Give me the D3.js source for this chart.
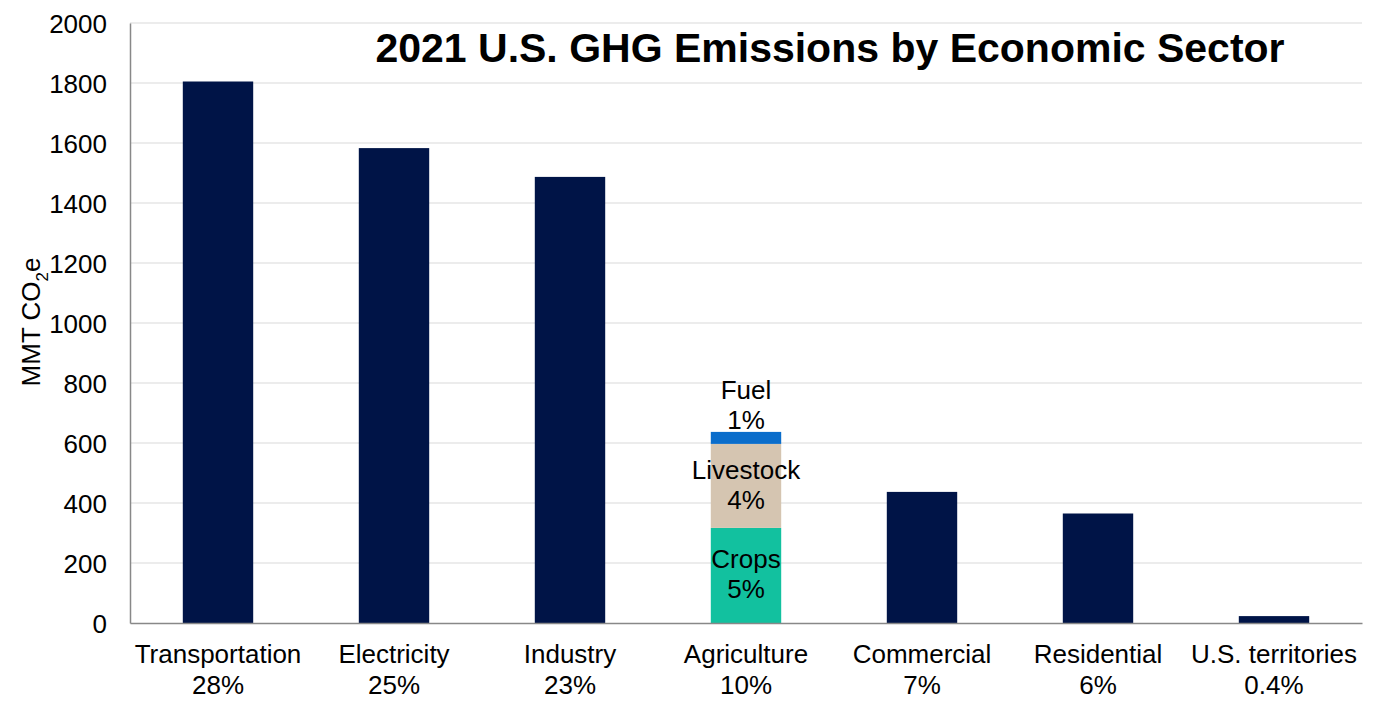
<!DOCTYPE html>
<html>
<head>
<meta charset="utf-8">
<script src="https://cdn.jsdelivr.net/npm/d3@7"></script>
<style>
  body { margin: 0; background: #fff; }
  text { font-family: "Liberation Sans", Arial, sans-serif; fill: #000; }
</style>
</head>
<body>
<svg width="1377" height="716"></svg>
<script>
// sectors along the x axis
const sectors = ["Transportation", "Electricity", "Industry", "Agriculture", "Commercial", "Residential", "U.S. territories"]
const shares = ["28%", "25%", "23%", "10%", "7%", "6%", "0.4%"]
const totals = [1805, 1583, 1487, 0, 437, 365, 23]

// agriculture is split into stacked parts
const agParts = ["Crops", "Livestock", "Fuel"]
const agValues = [317, 280, 40]
const agShares = ["5%", "4%", "1%"]

const yTicks = [0, 200, 400, 600, 800, 1000, 1200, 1400, 1600, 1800, 2000]

const svg = d3.select("svg")
const margin = {top: 23, right: 15, bottom: 93, left: 130}
const width = +svg.attr("width") - margin.left - margin.right
const height = +svg.attr("height") - margin.top - margin.bottom
const g = svg.append("g").attr("transform", "translate(" + margin.left + "," + margin.top + ")")

const x = d3.scaleBand().domain(sectors).range([0, width]).paddingInner(0.6).paddingOuter(0.3)
const y = d3.scaleLinear().domain([0, 2000]).range([height, 0])
const agColor = d3.scaleOrdinal().domain(agParts).range(["#12c19f", "#d5c5b1", "#0a6dcb"])

// grid
g.append("g")
    .selectAll("line")
    .data(yTicks.slice(1))
    .enter().append("line")
    .attr("x1", 0).attr("x2", width)
    .attr("y1", d => y(d)).attr("y2", d => y(d))
    .attr("stroke", "#d9d9d9")
    .attr("stroke-width", 1.2)

// simple bars
g.selectAll(".bar")
    .data(sectors.filter((s, i) => totals[i] > 0))
    .enter().append("rect")
    .attr("class", "bar")
    .attr("x", d => x(d))
    .attr("width", x.bandwidth())
    .attr("y", d => y(totals[sectors.indexOf(d)]))
    .attr("height", d => height - y(totals[sectors.indexOf(d)]))
    .attr("fill", "#001447")

// agriculture stack
let acc = 0
const stack = agParts.map((p, i) => {
    const s = {name: p, share: agShares[i], y0: acc, y1: acc + agValues[i]}
    acc += agValues[i]
    return s
})
g.selectAll(".ag")
    .data(stack)
    .enter().append("rect")
    .attr("class", "ag")
    .attr("x", x("Agriculture"))
    .attr("width", x.bandwidth())
    .attr("y", d => y(d.y1))
    .attr("height", d => y(d.y0) - y(d.y1))
    .attr("fill", d => agColor(d.name))

const cx = x("Agriculture") + x.bandwidth() / 2
const agLabel = g.selectAll(".aglabel")
    .data(stack)
    .enter().append("text")
    .attr("class", "aglabel")
    .attr("text-anchor", "middle")
    .style("font-size", "26px")
    .attr("x", cx)
    .attr("y", d => d.name === "Fuel" ? y(d.y1) - 33 : y((d.y0 + d.y1) / 2) - 7)
agLabel.append("tspan").attr("x", cx).text(d => d.name)
agLabel.append("tspan").attr("x", cx).attr("dy", 30).text(d => d.share)

// axes
const yAxis = g.append("g").call(d3.axisLeft(y).tickValues(yTicks).tickFormat(d3.format("d")).tickSize(0).tickPadding(23))
yAxis.select(".domain").attr("stroke", "#888").attr("stroke-width", 1.5)
yAxis.selectAll("text").style("font-size", "26px").attr("dy", "0.35em")

const xAxis = g.append("g")
    .attr("transform", "translate(0," + height + ")")
    .call(d3.axisBottom(x).tickSize(0).tickFormat(""))
xAxis.select(".domain").attr("stroke", "#888").attr("stroke-width", 1.5)

const catLabel = g.append("g").selectAll("text")
    .data(sectors)
    .enter().append("text")
    .attr("text-anchor", "middle")
    .style("font-size", "26px")
    .attr("y", height + 40)
catLabel.append("tspan").attr("x", d => x(d) + x.bandwidth() / 2).text(d => d)
catLabel.append("tspan").attr("x", d => x(d) + x.bandwidth() / 2).attr("dy", 31)
    .text((d, i) => shares[i])

// y label
const yl = svg.append("text")
    .attr("transform", "translate(40,322) rotate(-90)")
    .attr("text-anchor", "middle")
    .style("font-size", "26px")
yl.append("tspan").text("MMT CO")
yl.append("tspan").attr("dy", 8).style("font-size", "17px").text("2")
yl.append("tspan").attr("dy", -8).text("e")

// title
svg.append("text")
    .attr("x", 830)
    .attr("y", 62)
    .attr("text-anchor", "middle")
    .style("font-size", "41px")
    .style("font-weight", "bold")
    .text("2021 U.S. GHG Emissions by Economic Sector")
</script>
</body>
</html>
